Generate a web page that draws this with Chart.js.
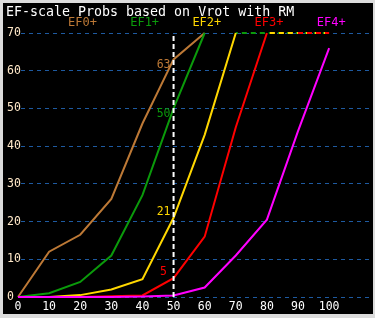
<!DOCTYPE html>
<html>
<head>
<meta charset="utf-8">
<script src="https://cdn.jsdelivr.net/npm/chart.js@4"></script>
<style>
  html, body { margin: 0; padding: 0; background: #dcdcdc; width: 375px; height: 318px; overflow: hidden; }
  #wrap { position: absolute; left: 3px; top: 3px; width: 370px; height: 311px; background: #000; }
  canvas { display: block; }
</style>
</head>
<body>
<div id="wrap"><canvas id="c" width="370" height="311"></canvas></div>
<script>
// ---- data ----
const titleText = 'EF-scale Probs based on Vrot with RM';
const seriesNames = ['EF0+', 'EF1+', 'EF2+', 'EF3+', 'EF4+'];
const seriesColors = ['#bd7936', '#0b9a0b', '#ffd700', '#ff0000', '#ff00ff'];
const vrot = [0, 10, 20, 30, 40, 50, 60, 70, 80, 90, 100];
const ef0 = [0, 12, 16.5, 26, 46, 63, 70, null, null, null, null];
const ef1 = [0, 1, 4, 11, 27, 50, 70, 70, 70, 70, 70];
const ef2 = [0, 0, 0.5, 2, 4.7, 21, 43, 70, 70, 70, 70];
const ef3 = [0, 0, 0, 0.2, 0.4, 5, 16, 45, 70, 70, 70];
const ef4 = [0, 0, 0, 0, 0.1, 0.4, 2.5, 11, 20.5, 44, 66];
const yTicks = [0, 10, 20, 30, 40, 50, 60, 70];
const xTicks = [0, 10, 20, 30, 40, 50, 60, 70, 80, 90, 100];
const markerX = 50;
const labelled = [0, 1, 2, 3];
const yCap = 70;

const allSeries = [ef0, ef1, ef2, ef3, ef4];

function pts(arr) {
  return vrot.map((x, i) => ({ x: x, y: arr[i] }));
}

const datasets = allSeries.map((arr, i) => {
  const firstCap = arr.findIndex(v => v !== null && v >= yCap);
  return {
    label: seriesNames[i],
    data: pts(arr),
    borderColor: seriesColors[i],
    borderWidth: 2,
    pointRadius: 0,
    tension: 0,
    fill: false,
    clip: false,
    order: 10 - i,
    spanGaps: false,
    segment: {
      borderDash: ctx => (ctx.p0.parsed.y >= yCap && ctx.p1.parsed.y >= yCap) ? [5, 4] : undefined,
      borderDashOffset: ctx => i * 3,
      borderColor: ctx => (ctx.p0DataIndex === firstCap && ctx.p1.parsed.y >= yCap) ? 'rgba(0,0,0,0)' : undefined
    }
  };
});

datasets.push({
  label: 'marker',
  data: [{ x: markerX, y: 0 }, { x: markerX, y: yCap }],
  borderColor: '#ffffff',
  borderWidth: 2,
  borderDash: [5, 3],
  pointRadius: 0,
  fill: false,
  clip: false,
  order: -1
});

const overlay = {
  id: 'overlay',
  afterDatasetsDraw(chart) {
    const ctx = chart.ctx;
    const xs = chart.scales.x, ys = chart.scales.y;
    ctx.save();
    ctx.font = '11.5px "DejaVu Sans Mono", monospace';
    ctx.textAlign = 'center';
    ctx.textBaseline = 'middle';
    const mi = vrot.indexOf(markerX);
    labelled.forEach(si => {
      const v = allSeries[si][mi];
      const px = xs.getPixelForValue(markerX) - 10;
      const py = ys.getPixelForValue(v) + (v > 30 ? 6 : -6);
      ctx.fillStyle = seriesColors[si];
      ctx.fillText(String(v), px, py);
    });
    ctx.restore();
  },
  afterDraw(chart) {
    const ctx = chart.ctx;
    ctx.save();
    ctx.textBaseline = 'alphabetic';
    ctx.textAlign = 'left';
    ctx.fillStyle = '#ffffff';
    ctx.font = '13.3px "DejaVu Sans Mono", monospace';
    ctx.fillText(titleText, 3, 13);
    ctx.font = '12px "DejaVu Sans Mono", monospace';
    seriesNames.forEach((n, i) => {
      ctx.fillStyle = seriesColors[i];
      ctx.fillText(n, 65 + i * 62.2, 22.5);
    });
    ctx.restore();
  }
};

new Chart(document.getElementById('c'), {
  type: 'line',
  data: { datasets: datasets },
  plugins: [overlay],
  options: {
    responsive: false,
    animation: false,
    events: [],
    layout: { padding: { left: 4, top: 30, right: 0, bottom: 0 } },
    plugins: { legend: { display: false }, title: { display: false }, tooltip: { enabled: false } },
    scales: {
      x: {
        type: 'linear',
        min: 0.965,
        max: 114.1,
        afterFit: s => { s.height = 17; },
        afterBuildTicks: s => { s.ticks = xTicks.map(v => ({ value: v })); },
        grid: { display: false, drawTicks: false },
        border: { display: false },
        ticks: {
          padding: 3,
          color: '#ffffff',
          font: { family: '"DejaVu Sans Mono", monospace', size: 11.5 },
          maxRotation: 0,
          autoSkip: false
        }
      },
      y: {
        min: 0,
        max: yCap,
        afterFit: s => { s.width = 14; },
        afterBuildTicks: s => { s.ticks = yTicks.map(v => ({ value: v })); },
        grid: { color: '#1e5aa0', lineWidth: 1, drawTicks: false },
        border: { display: false, dash: [4, 4] },
        ticks: {
          crossAlign: 'far',
          padding: 0,
          color: '#ffe8c8',
          font: { family: '"DejaVu Sans Mono", monospace', size: 11.5 }
        }
      }
    }
  }
});
</script>
</body>
</html>
